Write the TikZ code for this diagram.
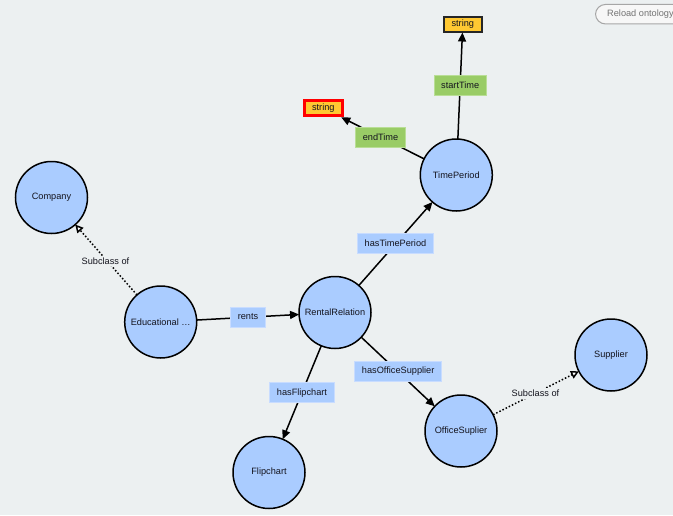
\documentclass[tikz,border=0pt]{standalone}
\usepackage{fontspec}
\setmainfont{Liberation Sans}
\usetikzlibrary{arrows.meta}
\definecolor{bg}{RGB}{236,240,241}
\definecolor{cls}{RGB}{170,204,255}
\definecolor{lblb}{RGB}{170,204,255}
\definecolor{lblbd}{RGB}{200,220,255}
\definecolor{lblg}{RGB}{153,204,102}
\definecolor{lblgd}{RGB}{185,222,150}
\definecolor{lit}{RGB}{255,200,50}
\definecolor{txt}{RGB}{20,20,30}
\tikzset{
  cls/.style={circle, draw=black, line width=1.5pt, fill=cls, minimum size=72pt, inner sep=0pt, outer sep=0pt, font=\fontsize{9.2}{10}\selectfont, text=txt},
  objlbl/.style={rectangle, fill=lblb, draw=lblbd, line width=1pt, minimum height=20pt, inner xsep=7pt, inner ysep=0pt, font=\fontsize{9.2}{10}\selectfont, text=txt},
  datalbl/.style={rectangle, fill=lblg, draw=lblgd, line width=1pt, minimum height=20pt, inner xsep=7pt, inner ysep=0pt, font=\fontsize{9.2}{10}\selectfont, text=txt},
  sublbl/.style={rectangle, fill=bg, inner sep=2pt, font=\fontsize{9.2}{10}\selectfont, text=txt},
  litbox/.style={rectangle, fill=lit, minimum width=38pt, minimum height=15pt, inner sep=0pt, font=\fontsize{9.2}{10}\selectfont, text=txt},
  rel/.style={line width=1.5pt, -{Triangle[length=9pt,width=8pt]}},
  subrel/.style={line width=1.5pt, dash pattern=on 1.5pt off 2pt, -{Triangle[open,length=8pt,width=8pt,fill=white]}},
}
\begin{document}
\begin{tikzpicture}[x=1pt,y=-1pt]
\clip (0,0) rectangle (673,515);
\fill[bg] (0,0) rectangle (673,515);
% reload button
\node[rectangle, rounded corners=10pt, draw=black!35, fill=black!3, line width=1pt, minimum width=100pt, minimum height=19.5pt, anchor=west, inner sep=0pt] (reload) at (595,14.2) {};
\node[anchor=west, text=black!55, font=\fontsize{9.2}{10}\selectfont, inner sep=0pt] (reloadtxt) at (607,14.2) {Reload ontology};
% classes
\node[cls] (company) at (51.5,197.5) {Company};
\node[cls] (edu) at (160.7,322) {Educational \dots};
\node[cls] (rental) at (335,312.5) {RentalRelation};
\node[cls] (time) at (456.3,175) {TimePeriod};
\node[cls] (flip) at (269,472.5) {Flipchart};
\node[cls] (office) at (461,431) {OfficeSuplier};
\node[cls] (supplier) at (611,355) {Supplier};
% literals
\node[litbox, draw=black!85, line width=2pt] (strA) at (462.8,24) {string};
\node[litbox, draw=red, line width=3pt] (strB) at (323.3,108.3) {string};
% connectors
\draw[subrel] (edu) -- (company);
\draw[subrel] (office) -- (supplier);
\draw[rel] (edu) -- (rental);
\draw[rel] (rental) -- (time);
\draw[rel] (rental) -- (flip);
\draw[rel] (rental) -- (office);
\draw[rel] (time) -- (strA);
\draw[rel] (time) -- (strB);
% labels
\node[sublbl] (subA) at (105.5,261) {Subclass of};
\node[sublbl] (subB) at (535.5,393.5) {Subclass of};
\node[objlbl] (rents) at (248,317) {rents};
\node[objlbl] (hasflip) at (302,392.7) {hasFlipchart};
\node[objlbl] (hasoffice) at (398.2,371.5) {hasOfficeSupplier};
\node[objlbl] (hastime) at (395.5,243.7) {hasTimePeriod};
\node[datalbl] (start) at (460.2,85.3) {startTime};
\node[datalbl] (end) at (380.5,137.2) {endTime};
\end{tikzpicture}
\end{document}
